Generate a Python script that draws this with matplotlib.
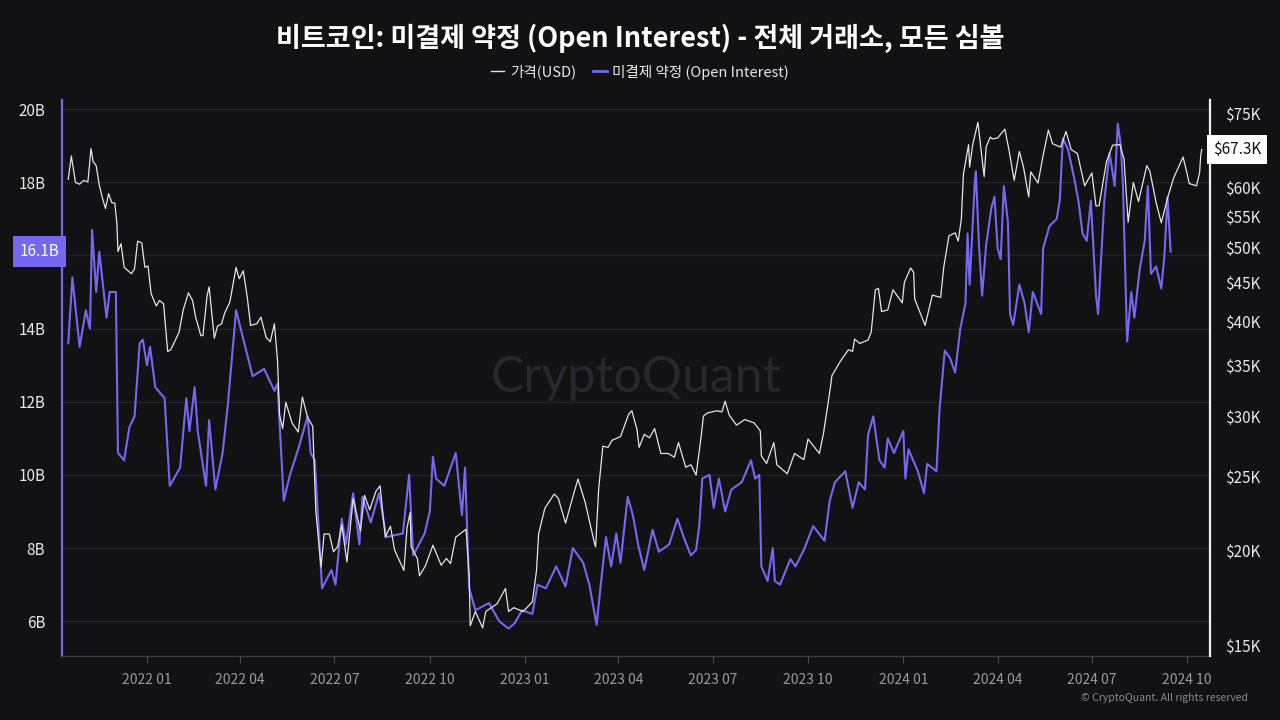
import pandas as pd
import matplotlib
matplotlib.use('Agg')
import matplotlib.pyplot as plt
import matplotlib.dates as mdates
from matplotlib.ticker import FixedLocator, FuncFormatter, NullLocator
from matplotlib.lines import Line2D

plt.rcParams['font.family'] = ['Noto Sans CJK KR', 'DejaVu Sans']

# ---- data ----
# open interest (billions USD), turning points
oi_dates = [
    "2021-10-17", "2021-10-21", "2021-10-28", "2021-11-03", "2021-11-07", "2021-11-09",
    "2021-11-13", "2021-11-16", "2021-11-23", "2021-11-26", "2021-12-02", "2021-12-04",
    "2021-12-10", "2021-12-15", "2021-12-20", "2021-12-25", "2021-12-28", "2022-01-01",
    "2022-01-04", "2022-01-09", "2022-01-18", "2022-01-23", "2022-02-02", "2022-02-08",
    "2022-02-11", "2022-02-16", "2022-02-19", "2022-02-27", "2022-03-02", "2022-03-08",
    "2022-03-15", "2022-03-20", "2022-03-28", "2022-04-05", "2022-04-13", "2022-04-24",
    "2022-05-04", "2022-05-07", "2022-05-13", "2022-05-19", "2022-05-28", "2022-06-05",
    "2022-06-08", "2022-06-12", "2022-06-19", "2022-06-28", "2022-07-02", "2022-07-08",
    "2022-07-12", "2022-07-19", "2022-07-25", "2022-07-28", "2022-08-05", "2022-08-13",
    "2022-08-20", "2022-09-05", "2022-09-11", "2022-09-15", "2022-09-26", "2022-10-01",
    "2022-10-04", "2022-10-07", "2022-10-15", "2022-10-26", "2022-11-01", "2022-11-04",
    "2022-11-08", "2022-11-14", "2022-11-27", "2022-12-07", "2022-12-16", "2022-12-22",
    "2022-12-29", "2023-01-08", "2023-01-13", "2023-01-21", "2023-01-31", "2023-02-09",
    "2023-02-16", "2023-02-26", "2023-03-04", "2023-03-11", "2023-03-15", "2023-03-20",
    "2023-03-25", "2023-03-30", "2023-04-03", "2023-04-10", "2023-04-15", "2023-04-20",
    "2023-04-26", "2023-05-04", "2023-05-10", "2023-05-20", "2023-05-28", "2023-06-03",
    "2023-06-10", "2023-06-15", "2023-06-18", "2023-06-21", "2023-06-28", "2023-07-02",
    "2023-07-07", "2023-07-13", "2023-07-19", "2023-07-29", "2023-08-07", "2023-08-11",
    "2023-08-15", "2023-08-17", "2023-08-23", "2023-08-28", "2023-08-30", "2023-09-04",
    "2023-09-14", "2023-09-19", "2023-09-27", "2023-10-06", "2023-10-17", "2023-10-22",
    "2023-10-27", "2023-11-06", "2023-11-13", "2023-11-19", "2023-11-25", "2023-11-28",
    "2023-12-03", "2023-12-09", "2023-12-14", "2023-12-17", "2023-12-23", "2024-01-01",
    "2024-01-03", "2024-01-06", "2024-01-15", "2024-01-21", "2024-01-24", "2024-02-02",
    "2024-02-05", "2024-02-10", "2024-02-15", "2024-02-20", "2024-02-25", "2024-03-01",
    "2024-03-03", "2024-03-05", "2024-03-10", "2024-03-11", "2024-03-14", "2024-03-17",
    "2024-03-21", "2024-03-26", "2024-03-29", "2024-04-01", "2024-04-04", "2024-04-07",
    "2024-04-11", "2024-04-13", "2024-04-16", "2024-04-22", "2024-04-27", "2024-05-01",
    "2024-05-05", "2024-05-13", "2024-05-15", "2024-05-21", "2024-05-28", "2024-05-31",
    "2024-06-03", "2024-06-08", "2024-06-14", "2024-06-18", "2024-06-22", "2024-06-26",
    "2024-06-30", "2024-07-05", "2024-07-07", "2024-07-13", "2024-07-18", "2024-07-23",
    "2024-07-26", "2024-07-29", "2024-07-31", "2024-08-04", "2024-08-08", "2024-08-11",
    "2024-08-16", "2024-08-21", "2024-08-24", "2024-08-27", "2024-09-01", "2024-09-06",
    "2024-09-09", "2024-09-12", "2024-09-15",
]
oi_values = [
    13.6, 15.4, 13.5, 14.5, 14.0, 16.7,
    15.0, 16.1, 14.3, 15.0, 15.0, 10.6,
    10.4, 11.3, 11.6, 13.6, 13.7, 13.0,
    13.5, 12.4, 12.1, 9.7, 10.2, 12.1,
    11.2, 12.4, 11.2, 9.7, 11.5, 9.6,
    10.6, 11.9, 14.5, 13.6, 12.7, 12.9,
    12.3, 12.5, 9.3, 10.0, 10.8, 11.6,
    10.6, 10.4, 6.9, 7.4, 7.0, 8.8,
    8.1, 9.5, 8.1, 9.4, 8.7, 9.5,
    8.3, 8.4, 10.0, 7.8, 8.4, 9.0,
    10.5, 9.9, 9.7, 10.6, 8.9, 10.2,
    6.9, 6.3, 6.5, 6.0, 5.8, 5.95,
    6.3, 6.2, 7.0, 6.9, 7.5, 6.95,
    8.0, 7.6, 7.0, 5.9, 7.0, 8.3,
    7.5, 8.4, 7.6, 9.4, 8.9, 8.1,
    7.4, 8.5, 7.9, 8.1, 8.8, 8.3,
    7.8, 7.95, 8.6, 9.9, 10.0, 9.1,
    9.9, 9.0, 9.6, 9.8, 10.4, 9.9,
    10.0, 7.5, 7.1, 8.0, 7.1, 7.0,
    7.7, 7.5, 7.95, 8.6, 8.2, 9.3,
    9.8, 10.1, 9.1, 9.8, 9.6, 11.1,
    11.6, 10.4, 10.2, 11.0, 10.6, 11.2,
    9.9, 10.7, 10.1, 9.5, 10.3, 10.1,
    11.8, 13.4, 13.2, 12.8, 14.0, 14.7,
    16.6, 15.2, 18.0, 18.3, 16.3, 14.9,
    16.3, 17.3, 17.6, 16.2, 15.9, 17.9,
    16.9, 14.4, 14.1, 15.2, 14.7, 13.9,
    15.0, 14.4, 16.2, 16.8, 17.0, 17.5,
    19.2, 18.9, 18.1, 17.5, 16.6, 16.4,
    17.5, 14.9, 14.4, 17.5, 18.8, 17.9,
    19.6, 19.0, 17.9, 13.65, 15.0, 14.3,
    15.6, 16.4, 17.9, 15.5, 15.7, 15.1,
    16.0, 17.6, 16.1,
]

# BTC price (thousands USD)
price_dates = [
    "2021-10-17", "2021-10-20", "2021-10-24", "2021-10-28", "2021-11-01", "2021-11-05",
    "2021-11-08", "2021-11-10", "2021-11-13", "2021-11-16", "2021-11-19", "2021-11-22",
    "2021-11-25", "2021-11-28", "2021-12-01", "2021-12-03", "2021-12-04", "2021-12-07",
    "2021-12-10", "2021-12-13", "2021-12-17", "2021-12-20", "2021-12-23", "2021-12-27",
    "2021-12-30", "2022-01-02", "2022-01-05", "2022-01-10", "2022-01-13", "2022-01-17",
    "2022-01-21", "2022-01-24", "2022-01-28", "2022-02-01", "2022-02-05", "2022-02-10",
    "2022-02-14", "2022-02-17", "2022-02-22", "2022-02-24", "2022-02-28", "2022-03-02",
    "2022-03-07", "2022-03-10", "2022-03-14", "2022-03-17", "2022-03-22", "2022-03-28",
    "2022-03-31", "2022-04-04", "2022-04-08", "2022-04-11", "2022-04-17", "2022-04-21",
    "2022-04-26", "2022-04-30", "2022-05-04", "2022-05-07", "2022-05-09", "2022-05-12",
    "2022-05-15", "2022-05-21", "2022-05-27", "2022-05-31", "2022-06-05", "2022-06-10",
    "2022-06-13", "2022-06-18", "2022-06-21", "2022-06-26", "2022-06-30", "2022-07-04",
    "2022-07-08", "2022-07-13", "2022-07-19", "2022-07-26", "2022-07-30", "2022-08-04",
    "2022-08-10", "2022-08-14", "2022-08-19", "2022-08-24", "2022-08-28", "2022-09-06",
    "2022-09-09", "2022-09-12", "2022-09-13", "2022-09-19", "2022-09-21", "2022-09-27",
    "2022-10-04", "2022-10-12", "2022-10-17", "2022-10-21", "2022-10-26", "2022-11-05",
    "2022-11-08", "2022-11-09", "2022-11-14", "2022-11-21", "2022-11-24", "2022-12-05",
    "2022-12-13", "2022-12-16", "2022-12-21", "2022-12-30", "2023-01-08", "2023-01-12",
    "2023-01-14", "2023-01-20", "2023-01-29", "2023-02-02", "2023-02-09", "2023-02-16",
    "2023-02-21", "2023-02-28", "2023-03-09", "2023-03-10", "2023-03-13", "2023-03-17",
    "2023-03-22", "2023-03-26", "2023-04-03", "2023-04-11", "2023-04-14", "2023-04-19",
    "2023-04-21", "2023-04-26", "2023-05-01", "2023-05-06", "2023-05-12", "2023-05-19",
    "2023-05-25", "2023-05-29", "2023-06-05", "2023-06-10", "2023-06-15", "2023-06-20",
    "2023-06-22", "2023-06-26", "2023-07-05", "2023-07-10", "2023-07-13", "2023-07-17",
    "2023-07-24", "2023-08-01", "2023-08-10", "2023-08-16", "2023-08-17", "2023-08-22",
    "2023-08-29", "2023-09-01", "2023-09-11", "2023-09-18", "2023-09-27", "2023-10-01",
    "2023-10-12", "2023-10-16", "2023-10-23", "2023-10-24", "2023-11-01", "2023-11-09",
    "2023-11-13", "2023-11-15", "2023-11-20", "2023-11-28", "2023-12-01", "2023-12-05",
    "2023-12-08", "2023-12-11", "2023-12-17", "2023-12-22", "2023-12-31", "2024-01-02",
    "2024-01-08", "2024-01-11", "2024-01-12", "2024-01-22", "2024-01-29", "2024-02-06",
    "2024-02-09", "2024-02-14", "2024-02-20", "2024-02-23", "2024-02-26", "2024-02-28",
    "2024-03-04", "2024-03-05", "2024-03-08", "2024-03-13", "2024-03-19", "2024-03-21",
    "2024-03-25", "2024-03-27", "2024-04-01", "2024-04-08", "2024-04-12", "2024-04-17",
    "2024-04-22", "2024-04-26", "2024-05-01", "2024-05-03", "2024-05-10", "2024-05-15",
    "2024-05-20", "2024-05-24", "2024-06-01", "2024-06-06", "2024-06-11", "2024-06-17",
    "2024-06-24", "2024-07-01", "2024-07-05", "2024-07-08", "2024-07-15", "2024-07-21",
    "2024-07-28", "2024-08-01", "2024-08-05", "2024-08-10", "2024-08-15", "2024-08-23",
    "2024-08-26", "2024-09-01", "2024-09-06", "2024-09-12", "2024-09-18", "2024-09-27",
    "2024-09-30", "2024-10-03", "2024-10-10", "2024-10-13", "2024-10-14", "2024-10-15",
]
price_values = [
    61.5, 66.0, 60.9, 60.6, 61.3, 61.0,
    67.5, 64.9, 64.1, 60.4, 58.1, 56.3,
    58.9, 57.3, 57.2, 53.7, 49.4, 50.6,
    47.1, 46.7, 46.2, 46.9, 51.0, 50.7,
    47.1, 47.3, 43.5, 41.9, 42.6, 42.2,
    36.5, 36.7, 37.7, 38.7, 41.4, 43.6,
    42.6, 40.5, 38.3, 38.3, 43.2, 44.4,
    38.0, 39.4, 39.7, 41.0, 42.4, 47.1,
    45.5, 46.6, 42.8, 39.5, 39.7, 40.5,
    38.1, 37.6, 39.7, 35.5, 30.1, 28.9,
    31.3, 29.4, 28.6, 31.8, 29.9, 29.1,
    22.5, 19.0, 21.0, 21.0, 19.9, 20.2,
    21.6, 19.3, 23.4, 21.2, 23.6, 22.6,
    23.9, 24.3, 20.8, 21.5, 20.0, 18.8,
    21.4, 22.4, 20.2, 19.5, 18.5, 19.1,
    20.3, 19.1, 19.5, 19.2, 20.8, 21.3,
    18.5, 15.9, 16.6, 15.8, 16.6, 17.0,
    17.8, 16.6, 16.8, 16.6, 17.1, 18.8,
    21.0, 22.7, 23.7, 23.4, 21.7, 23.5,
    24.8, 23.1, 20.4, 20.2, 24.1, 27.4,
    27.3, 27.9, 28.2, 30.2, 30.5, 28.8,
    27.3, 28.4, 28.1, 28.9, 26.8, 26.8,
    26.5, 27.7, 25.7, 25.9, 25.1, 28.3,
    30.0, 30.3, 30.5, 30.4, 31.4, 30.1,
    29.2, 29.7, 29.4, 28.7, 26.6, 26.0,
    27.7, 25.9, 25.2, 26.8, 26.3, 28.0,
    26.8, 28.5, 33.0, 33.9, 35.4, 36.7,
    36.5, 37.9, 37.4, 37.8, 38.7, 44.0,
    44.2, 41.2, 41.4, 44.0, 42.3, 45.0,
    47.0, 46.4, 42.8, 39.5, 43.3, 43.0,
    47.1, 51.8, 52.3, 51.0, 54.5, 62.5,
    68.3, 63.8, 68.3, 73.1, 62.0, 67.9,
    69.9, 69.5, 69.7, 71.6, 67.2, 61.3,
    66.9, 63.8, 58.3, 62.9, 60.8, 66.2,
    71.4, 68.5, 67.8, 71.1, 67.3, 66.5,
    60.3, 62.7, 56.7, 56.8, 64.8, 68.2,
    68.3, 65.4, 54.0, 60.9, 57.5, 64.1,
    63.0, 57.3, 53.9, 58.1, 61.8, 65.8,
    63.3, 60.7, 60.3, 62.8, 66.0, 67.3,
]

left_ticks = [6, 8, 10, 12, 14, 16, 18, 20]
right_ticks = [15, 20, 25, 30, 35, 40, 45, 50, 55, 60, 65, 70, 75]
# tick labels sitting under the last-value tags in the reference
left_hidden = [16]
right_hidden = [65, 70]

title = "비트코인: 미결제 약정 (Open Interest) - 전체 거래소, 모든 심볼"
price_label = "가격(USD)"
oi_label = "미결제 약정 (Open Interest)"

# ---- style ----
BG = '#121215'
GRID = '#222227'
OI_COLOR = '#7468f0'
PRICE_COLOR = '#e4e4e4'
TEXT = '#e8e8e8'

oi_x = pd.to_datetime(oi_dates)
price_x = pd.to_datetime(price_dates)

fig = plt.figure(figsize=(12.8, 7.2), dpi=100, facecolor=BG)
ax = fig.add_axes([62 / 1280, 64 / 720, (1210 - 62) / 1280, (656 - 100) / 720])
ax.set_facecolor(BG)
ax2 = ax.twinx()

ax.plot(oi_x, oi_values, color=OI_COLOR, lw=1.5, zorder=3)
ax2.plot(price_x, price_values, color=PRICE_COLOR, lw=0.9, zorder=4)

ax.set_xlim(pd.Timestamp("2021-10-11"), pd.Timestamp("2024-10-23"))
ax.set_ylim(5.05, 20.25)
ax2.set_yscale('log')
ax2.set_ylim(14.51, 78.2)

# left axis
ax.yaxis.set_major_locator(FixedLocator(left_ticks))
ax.yaxis.set_major_formatter(
    FuncFormatter(lambda v, p: '' if round(v) in left_hidden else f"{v:.0f}B"))
ax.tick_params(axis='y', length=0, pad=12, labelsize=11, labelcolor=TEXT)
ax.yaxis.grid(True, color=GRID, lw=0.9)
ax.set_axisbelow(True)

# right axis
ax2.yaxis.set_major_locator(FixedLocator(right_ticks))
ax2.yaxis.set_minor_locator(NullLocator())
ax2.yaxis.set_major_formatter(
    FuncFormatter(lambda v, p: '' if round(v) in right_hidden else f"${v:.0f}K"))
ax2.tick_params(axis='y', length=0, pad=11, labelsize=11, labelcolor=TEXT)

# x axis
ax.xaxis.set_major_locator(mdates.MonthLocator(bymonth=[1, 4, 7, 10]))
ax.xaxis.set_major_formatter(mdates.DateFormatter('%Y %m'))
ax.tick_params(axis='x', length=5, color='#4a4a50', labelsize=10,
               labelcolor='#9a9a9e', pad=7)

for a in (ax, ax2):
    for s in ('top', 'left', 'right', 'bottom'):
        a.spines[s].set_visible(False)
ax.spines['left'].set_visible(True)
ax.spines['left'].set_color(OI_COLOR)
ax.spines['left'].set_linewidth(1.6)
ax2.spines['right'].set_visible(True)
ax2.spines['right'].set_color('#f0f0f0')
ax2.spines['right'].set_linewidth(1.6)
ax.spines['bottom'].set_visible(True)
ax.spines['bottom'].set_color('#3a3a40')
ax.spines['bottom'].set_linewidth(1.0)

# last-value tags
ax.annotate(f"{oi_values[-1]:.1f}B", xy=(0, oi_values[-1]),
            xycoords=('axes fraction', 'data'), xytext=(-2, 0),
            textcoords='offset points', ha='right', va='center',
            fontsize=11, color='white', annotation_clip=False, zorder=10,
            bbox=dict(boxstyle='square,pad=0.45', fc=OI_COLOR, ec='none'))
ax2.annotate(f"${price_values[-1]:.1f}K", xy=(1, price_values[-1]),
             xycoords=('axes fraction', 'data'), xytext=(2, 0),
             textcoords='offset points', ha='left', va='center',
             fontsize=11, color='#111111', annotation_clip=False, zorder=10,
             bbox=dict(boxstyle='square,pad=0.4', fc='white', ec='none'))

# watermark
ax.text(0.5, 0.5, "CryptoQuant", transform=ax.transAxes, ha='center', va='center',
        fontsize=36, color='#27272d', family='Lato', zorder=1)

# title + legend
fig.text(0.5, 1 - 38 / 720, title, ha='center', va='center', fontsize=19.5,
         fontweight='bold', color='white')
handles = [Line2D([], [], color=PRICE_COLOR, lw=1.0),
           Line2D([], [], color=OI_COLOR, lw=2.0)]
fig.legend(handles, [price_label, oi_label], loc='center',
           bbox_to_anchor=(0.5, 1 - 72 / 720), ncol=2, frameon=False,
           fontsize=10.5, labelcolor=TEXT, handlelength=0.9, handletextpad=0.4,
           columnspacing=1.2)

fig.text(1248 / 1280, 1 - 698 / 720, "© CryptoQuant. All rights reserved",
         ha='right', va='center', fontsize=7.5, color='#8a8a8e')

fig.savefig('out.png', dpi=100, facecolor=BG)
